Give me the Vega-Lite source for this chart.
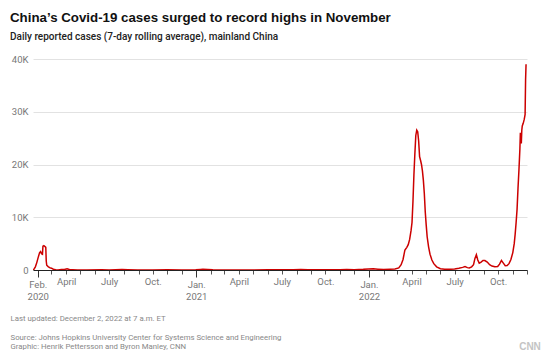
{
  "$schema": "https://vega.github.io/schema/vega-lite/v6.json",
  "width": 494,
  "height": 211,
  "autosize": {"type": "none"},
  "padding": {"left": 33, "top": 59, "right": 23, "bottom": 84},
  "background": "white",
  "title": {
    "text": "China\u2019s Covid-19 cases surged to record highs in November",
    "subtitle": "Daily reported cases (7-day rolling average), mainland China",
    "anchor": "start",
    "frame": "group",
    "dx": -23,
    "offset": 12,
    "font": "Liberation Sans",
    "fontSize": 13.3,
    "fontWeight": "bold",
    "color": "#111",
    "subtitleFont": "Roboto",
    "subtitleFontSize": 10,
    "subtitleFontWeight": 500,
    "subtitleColor": "#222",
    "subtitlePadding": 8
  },
  "config": {
    "view": {"stroke": null},
    "font": "Roboto"
  },
  "data": {
    "values": [
      {"date": "2020-01-22", "cases": 0},
      {"date": "2020-01-24", "cases": 150},
      {"date": "2020-01-27", "cases": 600},
      {"date": "2020-01-30", "cases": 1400},
      {"date": "2020-02-02", "cases": 2400},
      {"date": "2020-02-05", "cases": 3300},
      {"date": "2020-02-07", "cases": 3500},
      {"date": "2020-02-09", "cases": 3100},
      {"date": "2020-02-11", "cases": 3000},
      {"date": "2020-02-12", "cases": 4500},
      {"date": "2020-02-14", "cases": 4600},
      {"date": "2020-02-17", "cases": 4400},
      {"date": "2020-02-18", "cases": 4300},
      {"date": "2020-02-19", "cases": 1700},
      {"date": "2020-02-20", "cases": 900},
      {"date": "2020-02-23", "cases": 650},
      {"date": "2020-02-26", "cases": 450},
      {"date": "2020-03-01", "cases": 350},
      {"date": "2020-03-05", "cases": 150},
      {"date": "2020-03-10", "cases": 40},
      {"date": "2020-03-15", "cases": 20},
      {"date": "2020-03-22", "cases": 80},
      {"date": "2020-03-28", "cases": 100},
      {"date": "2020-04-03", "cases": 220},
      {"date": "2020-04-08", "cases": 100},
      {"date": "2020-04-15", "cases": 60},
      {"date": "2020-04-25", "cases": 20},
      {"date": "2020-05-15", "cases": 10},
      {"date": "2020-06-15", "cases": 25},
      {"date": "2020-07-01", "cases": 15},
      {"date": "2020-07-28", "cases": 80},
      {"date": "2020-08-10", "cases": 40},
      {"date": "2020-08-30", "cases": 15},
      {"date": "2020-10-01", "cases": 20},
      {"date": "2020-11-01", "cases": 30},
      {"date": "2020-12-01", "cases": 20},
      {"date": "2020-12-31", "cases": 40},
      {"date": "2021-01-10", "cases": 100},
      {"date": "2021-01-15", "cases": 130},
      {"date": "2021-01-25", "cases": 110},
      {"date": "2021-02-05", "cases": 40},
      {"date": "2021-02-20", "cases": 15},
      {"date": "2021-04-01", "cases": 15},
      {"date": "2021-05-01", "cases": 20},
      {"date": "2021-06-01", "cases": 25},
      {"date": "2021-07-01", "cases": 30},
      {"date": "2021-07-25", "cases": 60},
      {"date": "2021-08-10", "cases": 100},
      {"date": "2021-08-25", "cases": 40},
      {"date": "2021-09-15", "cases": 50},
      {"date": "2021-10-01", "cases": 40},
      {"date": "2021-11-01", "cases": 70},
      {"date": "2021-11-15", "cases": 80},
      {"date": "2021-12-01", "cases": 60},
      {"date": "2021-12-20", "cases": 130},
      {"date": "2021-12-31", "cases": 200},
      {"date": "2022-01-10", "cases": 220},
      {"date": "2022-01-20", "cases": 150},
      {"date": "2022-02-01", "cases": 80},
      {"date": "2022-02-15", "cases": 150},
      {"date": "2022-02-25", "cases": 200},
      {"date": "2022-03-05", "cases": 400},
      {"date": "2022-03-10", "cases": 1000},
      {"date": "2022-03-14", "cases": 2000},
      {"date": "2022-03-18", "cases": 3800},
      {"date": "2022-03-22", "cases": 4300},
      {"date": "2022-03-25", "cases": 4800},
      {"date": "2022-03-28", "cases": 5800},
      {"date": "2022-03-31", "cases": 7500},
      {"date": "2022-04-02", "cases": 9000},
      {"date": "2022-04-04", "cases": 13000},
      {"date": "2022-04-06", "cases": 18000},
      {"date": "2022-04-08", "cases": 22000},
      {"date": "2022-04-10", "cases": 25500},
      {"date": "2022-04-12", "cases": 26500},
      {"date": "2022-04-14", "cases": 26200},
      {"date": "2022-04-16", "cases": 24500},
      {"date": "2022-04-18", "cases": 21500},
      {"date": "2022-04-20", "cases": 20800},
      {"date": "2022-04-22", "cases": 20000},
      {"date": "2022-04-24", "cases": 18800},
      {"date": "2022-04-26", "cases": 17000},
      {"date": "2022-04-28", "cases": 14500},
      {"date": "2022-04-30", "cases": 11000},
      {"date": "2022-05-02", "cases": 8500},
      {"date": "2022-05-04", "cases": 6300},
      {"date": "2022-05-07", "cases": 4400},
      {"date": "2022-05-10", "cases": 3000},
      {"date": "2022-05-14", "cases": 1900},
      {"date": "2022-05-18", "cases": 1200},
      {"date": "2022-05-24", "cases": 600},
      {"date": "2022-06-01", "cases": 250},
      {"date": "2022-06-10", "cases": 150},
      {"date": "2022-06-20", "cases": 120},
      {"date": "2022-07-01", "cases": 200},
      {"date": "2022-07-10", "cases": 350},
      {"date": "2022-07-18", "cases": 500},
      {"date": "2022-07-23", "cases": 650},
      {"date": "2022-07-28", "cases": 450},
      {"date": "2022-08-01", "cases": 400},
      {"date": "2022-08-06", "cases": 600},
      {"date": "2022-08-10", "cases": 1000},
      {"date": "2022-08-13", "cases": 2200},
      {"date": "2022-08-16", "cases": 2900},
      {"date": "2022-08-19", "cases": 1900},
      {"date": "2022-08-22", "cases": 1300},
      {"date": "2022-08-26", "cases": 1500},
      {"date": "2022-08-30", "cases": 1800},
      {"date": "2022-09-03", "cases": 1800},
      {"date": "2022-09-08", "cases": 1500},
      {"date": "2022-09-13", "cases": 1000},
      {"date": "2022-09-18", "cases": 750},
      {"date": "2022-09-24", "cases": 600},
      {"date": "2022-09-30", "cases": 650},
      {"date": "2022-10-04", "cases": 1100},
      {"date": "2022-10-08", "cases": 1800},
      {"date": "2022-10-12", "cases": 1300},
      {"date": "2022-10-16", "cases": 800},
      {"date": "2022-10-20", "cases": 850},
      {"date": "2022-10-24", "cases": 1200},
      {"date": "2022-10-28", "cases": 2000},
      {"date": "2022-11-01", "cases": 3300},
      {"date": "2022-11-04", "cases": 5000},
      {"date": "2022-11-06", "cases": 6800},
      {"date": "2022-11-08", "cases": 9000},
      {"date": "2022-11-10", "cases": 11500},
      {"date": "2022-11-12", "cases": 15500},
      {"date": "2022-11-14", "cases": 19000},
      {"date": "2022-11-16", "cases": 23000},
      {"date": "2022-11-17", "cases": 26000},
      {"date": "2022-11-18", "cases": 25000},
      {"date": "2022-11-19", "cases": 24000},
      {"date": "2022-11-20", "cases": 26500},
      {"date": "2022-11-21", "cases": 27300},
      {"date": "2022-11-23", "cases": 27800},
      {"date": "2022-11-25", "cases": 28500},
      {"date": "2022-11-26", "cases": 29000},
      {"date": "2022-11-27", "cases": 29500},
      {"date": "2022-11-28", "cases": 36000},
      {"date": "2022-11-29", "cases": 39000}
    ]
  },
  "layer": [
    {
      "mark": {"type": "line", "color": "#cc0000", "strokeWidth": 1.5, "clip": true},
      "encoding": {
        "x": {
          "field": "date",
          "type": "temporal",
          "scale": {"domain": ["2020-01-22", "2022-12-01"]},
          "axis": {
            "tickCount": {"interval": "month", "step": 1},
            "labelExpr": "month(datum.value) == 0 ? ['Jan.', '' + year(datum.value)] : (month(datum.value) == 1 && year(datum.value) == 2020) ? ['Feb.', '2020'] : month(datum.value) == 3 ? 'April' : month(datum.value) == 6 ? 'July' : month(datum.value) == 9 ? 'Oct.' : ''",
            "labelOverlap": false,
            "labelFlush": false,
            "labelBound": false,
            "labelFont": "Roboto",
            "labelFontSize": 9.5,
            "labelColor": "#777",
            "labelPadding": 2,
            "labelLineHeight": 12,
            "grid": false,
            "domainColor": "#222",
            "domainWidth": 1,
            "ticks": true,
            "tickColor": {"condition": {"test": "month(datum.value) == 0 || (month(datum.value) == 1 && year(datum.value) == 2020)", "value": "#333"}, "value": "#555"},
            "tickSize": {"condition": {"test": "month(datum.value) == 0 || (month(datum.value) == 1 && year(datum.value) == 2020)", "value": 7}, "value": 4},
            "tickWidth": 1,
            "title": ["Source: Johns Hopkins University Center for Systems Science and Engineering", "Graphic: Henrik Pettersson and Byron Manley, CNN"],
            "titleAnchor": "start",
            "titleAlign": "left",
            "titleBaseline": "top",
            "titleX": -23,
            "titleY": 63,
            "titleFont": "Roboto",
            "titleFontSize": 7.8,
            "titleFontWeight": "normal",
            "titleColor": "#888",
            "titleLineHeight": 9.6
          }
        },
        "y": {
          "field": "cases",
          "type": "quantitative",
          "scale": {"domain": [0, 40000]},
          "axis": {
            "values": [0, 10000, 20000, 30000, 40000],
            "labelExpr": "datum.value == 0 ? '0' : (datum.value / 1000) + 'K'",
            "labelFont": "Roboto",
            "labelFontSize": 9.5,
            "labelColor": "#777",
            "labelPadding": 5,
            "ticks": false,
            "domain": false,
            "gridColor": "#e2e2e2",
            "gridWidth": 1,
            "title": "Last updated: December 2, 2022 at 7 a.m. ET",
            "titleAngle": 0,
            "titleAlign": "left",
            "titleBaseline": "top",
            "titleX": -23,
            "titleY": 255,
            "titleFont": "Roboto",
            "titleFontSize": 7.8,
            "titleFontWeight": "normal",
            "titleColor": "#888"
          }
        }
      }
    },
    {
      "data": {"values": [{"logo": "CNN"}]},
      "mark": {"type": "text", "font": "Liberation Sans", "fontWeight": "bold", "fontSize": 10, "color": "#c4c4c4", "align": "center", "baseline": "middle", "dx": 3, "clip": false},
      "encoding": {
        "x": {"datum": {"year": 2022, "month": 12, "date": 1}, "type": "temporal"},
        "y": {"datum": -14600, "type": "quantitative"},
        "text": {"field": "logo"}
      }
    }
  ]
}
